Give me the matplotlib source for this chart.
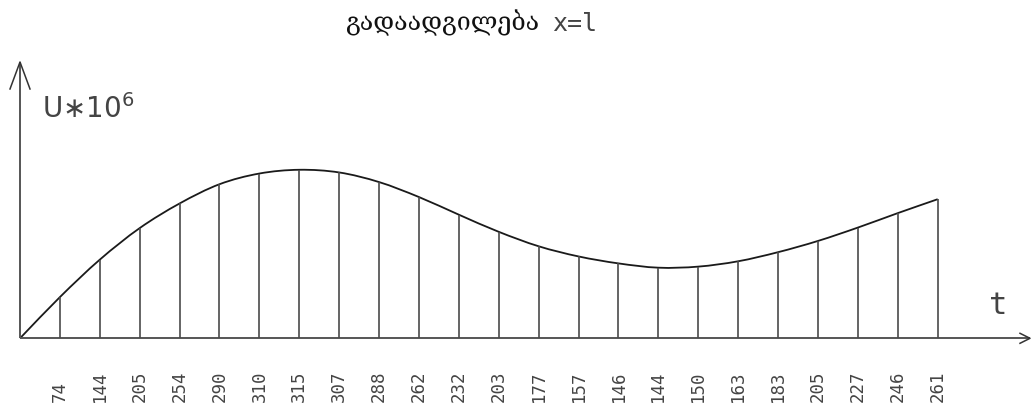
import numpy as np
import matplotlib
matplotlib.use("Agg")
import matplotlib.pyplot as plt
from matplotlib.path import Path
from matplotlib.patches import PathPatch

# ---- data ----
positions = list(range(1, 24))
# printed values (tick labels)
values = [74, 144, 205, 254, 290, 310, 315, 307, 288, 262, 232, 203,
          177, 157, 146, 144, 150, 163, 183, 205, 227, 246, 261]
tick_labels = [str(v) for v in values]
# drawn ordinate heights (same units as labels)
drawn = [77, 147, 206, 252, 288, 308, 315, 310, 292, 264, 231, 199,
         172, 153, 140, 132, 134, 144, 161, 182, 207, 234, 260]
title_geo = "გადაადგილება"
title_rest = "x=l"
y_label = "U∗10$^{6}$"
x_label = "t"

W, H, DPI = 10.32, 4.10, 100
fig = plt.figure(figsize=(W, H), dpi=DPI)
ax = fig.add_axes([0, 0, 1, 1])
ax.set_axis_off()

# pixel mapping: x_px = 20 + 39.9*i ; y_px(from top) = 339.3 - 0.535*v
sx, x0 = 39.9, 20.0
sy, y0 = 0.535, 339.3
ax.set_xlim(-x0 / sx, (1032 - x0) / sx)
ax.set_ylim((y0 - 410) / sy, y0 / sy)

line_col = "#4a4a4a"
curve_col = "#1a1a1a"
text_col = "#444444"

# axes with arrows
ytop = (y0 - 63) / sy
ax.plot([0, 0], [0, ytop], color="#555555", lw=1.4, solid_capstyle="butt")
ax.plot([-10 / sx, 0, 10 / sx], [ytop - 27 / sy, ytop, ytop - 27 / sy],
        color="#333333", lw=1.1)
xend = (1030 - x0) / sx
ax.plot([0, xend], [0, 0], color="#555555", lw=1.4, solid_capstyle="butt")
ax.plot([xend - 10 / sx, xend, xend - 10 / sx], [5 / sy, 0, -5 / sy],
        color="#333333", lw=1.1)

# vertical lines
for p, v in zip(positions, drawn):
    ax.plot([p, p], [0, v], color=line_col, lw=1.2, solid_capstyle="butt")

# smooth curve through (0,0) and data points using Bezier (Catmull-Rom control points)
xs = np.array([0] + positions, dtype=float)
ys = np.array([0] + drawn, dtype=float)
pts = np.column_stack([xs, ys])
n = len(pts)
verts = [tuple(pts[0])]
codes = [Path.MOVETO]
for k in range(n - 1):
    p0 = pts[k - 1] if k > 0 else pts[k] - (pts[k + 1] - pts[k])
    p1 = pts[k]
    p2 = pts[k + 1]
    p3 = pts[k + 2] if k + 2 < n else pts[k + 1] + (pts[k + 1] - pts[k])
    c1 = p1 + (p2 - p0) / 6.0
    c2 = p2 - (p3 - p1) / 6.0
    verts += [tuple(c1), tuple(c2), tuple(p2)]
    codes += [Path.CURVE4] * 3
patch = PathPatch(Path(verts, codes), facecolor="none", edgecolor=curve_col, lw=1.3)
ax.add_patch(patch)

# tick labels, rotated
font_cad = ["DejaVu Sans Mono", "DejaVu Sans"]
for p, lab in zip(positions, tick_labels):
    ax.annotate(lab, xy=(p, 0), xytext=(0, -(402 - y0) * 72 / DPI),
                textcoords="offset points", rotation=90, ha="center",
                va="bottom", fontsize=12.5, color=text_col, family=font_cad)

# axis labels
ax.text(-x0 / sx + 42 / sx, (y0 - 118) / sy, y_label, fontsize=20,
        color=text_col, family=["DejaVu Sans"], ha="left",
        va="baseline")
ax.text((998 - x0) / sx, (y0 - 306) / sy, x_label, fontsize=22,
        color=text_col, family=font_cad, ha="center",
        va="center")

# title
fig.text(345 / 1032, 1 - 30 / 410, title_geo, fontsize=18, color="#111111",
         family=["DejaVu Serif"], ha="left", va="baseline")
fig.text(552 / 1032, 1 - 31 / 410, title_rest, fontsize=18, color=text_col,
         family=font_cad, ha="left", va="baseline")

fig.savefig("out.png", dpi=DPI)
